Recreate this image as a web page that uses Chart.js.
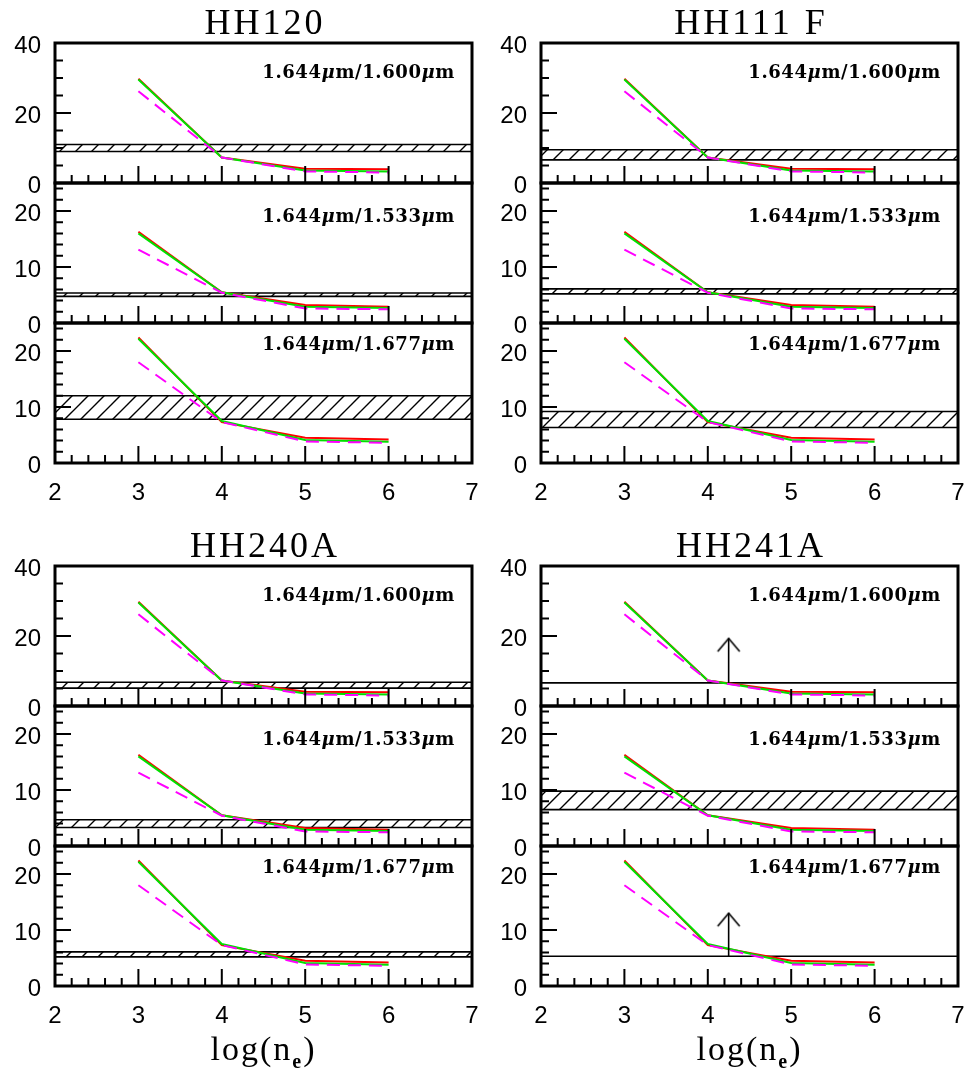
<!DOCTYPE html>
<html>
<head>
<meta charset="utf-8">
<script src="https://cdn.jsdelivr.net/npm/chart.js@4.4.1/dist/chart.umd.min.js"></script>
<style>
  body { margin: 0; background: #fff; }
  #wrap { position: relative; width: 966px; height: 1077px; overflow: hidden; background: #fff; }
  #wrap canvas { position: absolute; }
</style>
</head>
<body>
<div id="wrap"></div>
<script>
// model grid, log(n_e)
const logNe = [3, 4, 5, 6];

// model ratios 1.644/1.600
const r1600Red = [29.8, 7.3, 4.1, 3.9];
const r1600Green = [29.6, 7.3, 3.6, 3.3];
const r1600Magenta = [26.2, 7.3, 3.3, 3.0];

// model ratios 1.644/1.533
const r1533Red = [16.3, 5.5, 3.2, 2.9];
const r1533Green = [16.0, 5.5, 2.9, 2.7];
const r1533Magenta = [13.1, 5.4, 2.6, 2.45];

// model ratios 1.644/1.677
const r1677Red = [22.4, 7.3, 4.5, 4.2];
const r1677Green = [22.2, 7.5, 4.1, 3.8];
const r1677Magenta = [18.0, 7.3, 3.85, 3.6];

const ratioLabels = ["1.644μm/1.600μm", "1.644μm/1.533μm", "1.644μm/1.677μm"];
const objects = ["HH120", "HH111 F", "HH240A", "HH241A"];

// observed ratios: [low, high] is a band, a single number is a lower limit
const obsHH120 = [[9.0, 11.0], [4.75, 5.35], [7.8, 12.0]];
const obsHH111F = [[6.6, 9.5], [5.2, 6.1], [6.35, 9.2]];
const obsHH240A = [[5.1, 6.8], [3.3, 4.7], [5.2, 6.1]];
const obsHH241A = [6.6, [6.5, 9.8], 5.3];

// lower limit arrows (HH241A)
const arrowX = 4.25;
const arrowTopHH241A = [19.3, null, 13.0];

const xRange = [2, 7];
const yMax = [40, 25, 25];
const yLabelStep = [20, 10, 10];
const yMinorStep = [5, 2, 2];
const xMinorStep = 0.2;

const curves = [
  [r1600Red, r1600Green, r1600Magenta],
  [r1533Red, r1533Green, r1533Magenta],
  [r1677Red, r1677Green, r1677Magenta]
];
const observed = [obsHH120, obsHH111F, obsHH240A, obsHH241A];
const arrowTops = [null, null, null, arrowTopHH241A];

// layout
const colLeft = [0, 486];
const rowTop = [43, 566];
const subH = 140;
const yAxisW = 55;
const plotW = 417;
const labelDy = [30, 34.5, 22.5];

// hatch tile for the observed bands
const hatchTile = document.createElement("canvas");
hatchTile.width = 16;
hatchTile.height = 16;
(function () {
  const g = hatchTile.getContext("2d");
  g.strokeStyle = "#000";
  g.lineWidth = 1.4;
  g.beginPath();
  g.moveTo(-2, 18); g.lineTo(18, -2);
  g.moveTo(-2, 2); g.lineTo(2, -2);
  g.moveTo(14, 18); g.lineTo(18, 14);
  g.stroke();
})();

// open arrow head, apex at the centre of the image
const caret = document.createElement("canvas");
caret.width = 26;
caret.height = 30;
(function () {
  const g = caret.getContext("2d");
  g.strokeStyle = "#000";
  g.lineWidth = 1.6;
  g.beginPath();
  g.moveTo(2, 28); g.lineTo(13, 15); g.lineTo(24, 28);
  g.stroke();
})();

const frameAndText = {
  id: "frameAndText",
  afterDatasetsDraw(chart, args, o) {
    const ctx = chart.ctx;
    const a = chart.chartArea;
    const xs = chart.scales.x;
    const ys = chart.scales.y;
    ctx.save();
    ctx.strokeStyle = "#000";
    ctx.fillStyle = "#000";

    // inner ticks on left and bottom
    ctx.lineWidth = 2;
    ctx.beginPath();
    const ny = Math.round(ys.max / o.yMinor);
    for (let i = 1; i < ny; i++) {
      const v = i * o.yMinor;
      const py = ys.getPixelForValue(v);
      const len = Math.abs(v % o.yMajor) < 1e-6 ? 16 : 8;
      ctx.moveTo(a.left, py);
      ctx.lineTo(a.left + len, py);
    }
    const nx = Math.round((xs.max - xs.min) / xMinorStep);
    for (let i = 1; i < nx; i++) {
      const v = xs.min + i * xMinorStep;
      const px = xs.getPixelForValue(v);
      const len = Math.abs(v - Math.round(v)) < 1e-6 ? 17 : 8;
      ctx.moveTo(px, a.bottom);
      ctx.lineTo(px, a.bottom - len);
    }
    ctx.stroke();

    ctx.lineWidth = 3;
    ctx.strokeRect(a.left, a.top, a.right - a.left, a.bottom - a.top);

    // ratio label, mu in italics
    const base = 'bold 18px "DejaVu Serif"';
    ctx.letterSpacing = "0.6px";
    ctx.textBaseline = "middle";
    ctx.textAlign = "left";
    const bits = o.label.split("μ");
    const parts = [];
    bits.forEach((b, i) => {
      if (i > 0) parts.push(["μ", true]);
      if (b) parts.push([b, false]);
    });
    let total = 0;
    parts.forEach((p) => {
      ctx.font = (p[1] ? "italic " : "") + base;
      p.w = ctx.measureText(p[0]).width;
      total += p.w;
    });
    let x = a.right - 17 - total;
    const ly = a.top + o.labelDy;
    parts.forEach((p) => {
      ctx.font = (p[1] ? "italic " : "") + base;
      ctx.fillText(p[0], x, ly);
      x += p.w;
    });

    const cx = (a.left + a.right) / 2;
    if (o.title) {
      ctx.font = '36px "Liberation Serif"';
      ctx.letterSpacing = "3px";
      ctx.textAlign = "center";
      ctx.fillText(o.title, cx + 1.5, a.top - 18.5);
    }
    if (o.xTitle) {
      ctx.letterSpacing = "2px";
      ctx.textAlign = "left";
      const f1 = '34px "Liberation Serif"';
      const f2 = 'bold 20px "Liberation Serif"';
      ctx.font = f1;
      const w1 = ctx.measureText("log(n").width;
      const w3 = ctx.measureText(")").width;
      ctx.font = f2;
      const w2 = ctx.measureText("e").width;
      let tx = cx - (w1 + w2 + w3) / 2;
      const ty = a.bottom + 65;
      ctx.font = f1;
      ctx.fillText("log(n", tx, ty);
      tx += w1;
      ctx.font = f2;
      ctx.fillText("e", tx, ty + 12);
      tx += w2;
      ctx.font = f1;
      ctx.fillText(")", tx, ty);
    }
    ctx.restore();
  }
};

function flatLine(y) {
  return [{ x: xRange[0], y: y }, { x: xRange[1], y: y }];
}

function noPad(ax) {
  ax.paddingLeft = 0;
  ax.paddingRight = 0;
  ax.paddingTop = 0;
  ax.paddingBottom = 0;
}

function makeChart(p, s) {
  const col = p % 2;
  const row = Math.floor(p / 2);
  const padTop = s === 0 ? 40 : 15;
  const xAxisH = s === 2 ? (row === 1 ? 92 : 45) : 15;

  const canvas = document.createElement("canvas");
  canvas.width = yAxisW + plotW + 8;
  canvas.height = padTop + subH + xAxisH;
  canvas.style.left = colLeft[col] + "px";
  canvas.style.top = rowTop[row] + s * subH - padTop + "px";
  document.getElementById("wrap").appendChild(canvas);

  const datasets = [];
  const obs = observed[p][s];
  if (Array.isArray(obs)) {
    datasets.push({
      data: flatLine(obs[0]),
      borderColor: "#000", borderWidth: 1.6, fill: false, order: 6
    });
    datasets.push({
      data: flatLine(obs[1]),
      borderColor: "#000", borderWidth: 1.6, order: 5,
      fill: "-1",
      backgroundColor: (c) => c.chart.ctx.createPattern(hatchTile, "repeat")
    });
  } else {
    datasets.push({
      data: flatLine(obs),
      borderColor: "#000", borderWidth: 1.6, fill: false, order: 5
    });
    const tops = arrowTops[p];
    if (tops && tops[s] != null) {
      datasets.push({
        data: [{ x: arrowX, y: obs }, { x: arrowX, y: tops[s] }],
        borderColor: "#000", borderWidth: 1.6, fill: false, order: 0,
        pointStyle: [false, caret], pointRadius: [0, 4]
      });
    }
  }
  const [red, green, magenta] = curves[s];
  datasets.push({
    data: logNe.map((x, i) => ({ x: x, y: red[i] })),
    borderColor: "#ff0000", borderWidth: 2, fill: false, order: 3
  });
  datasets.push({
    data: logNe.map((x, i) => ({ x: x, y: green[i] })),
    borderColor: "#00e000", borderWidth: 2, fill: false, order: 2
  });
  datasets.push({
    data: logNe.map((x, i) => ({ x: x, y: magenta[i] })),
    borderColor: "#ff00ff", borderWidth: 2, borderDash: [13, 8], fill: false, order: 1
  });

  const tickFont = { family: '"Liberation Sans", Arial, sans-serif', size: 24 };

  return new Chart(canvas, {
    type: "line",
    data: { datasets: datasets },
    options: {
      responsive: false,
      animation: false,
      devicePixelRatio: 1,
      layout: { padding: { top: padTop, right: 8, left: 0, bottom: 0 } },
      elements: { line: { tension: 0 }, point: { radius: 0 } },
      plugins: {
        legend: { display: false },
        tooltip: { enabled: false },
        frameAndText: {
          label: ratioLabels[s],
          labelDy: labelDy[s],
          yMinor: yMinorStep[s],
          yMajor: yLabelStep[s],
          title: s === 0 ? objects[p] : "",
          xTitle: s === 2 && row === 1
        }
      },
      scales: {
        x: {
          type: "linear",
          min: xRange[0],
          max: xRange[1],
          grid: { display: false, drawTicks: false },
          border: { display: false },
          ticks: { display: s === 2, stepSize: 1, padding: 16, color: "#000", font: tickFont },
          afterFit: (ax) => { ax.height = xAxisH; noPad(ax); }
        },
        y: {
          type: "linear",
          min: 0,
          max: yMax[s],
          grid: { display: false, drawTicks: false },
          border: { display: false },
          ticks: {
            stepSize: yLabelStep[s], includeBounds: false, padding: 14,
            labelOffset: 3, color: "#000", font: tickFont
          },
          afterFit: (ax) => { ax.width = yAxisW; noPad(ax); }
        }
      }
    },
    plugins: [frameAndText]
  });
}

for (let p = 0; p < 4; p++) {
  for (let s = 0; s < 3; s++) {
    makeChart(p, s);
  }
}
</script>
</body>
</html>
